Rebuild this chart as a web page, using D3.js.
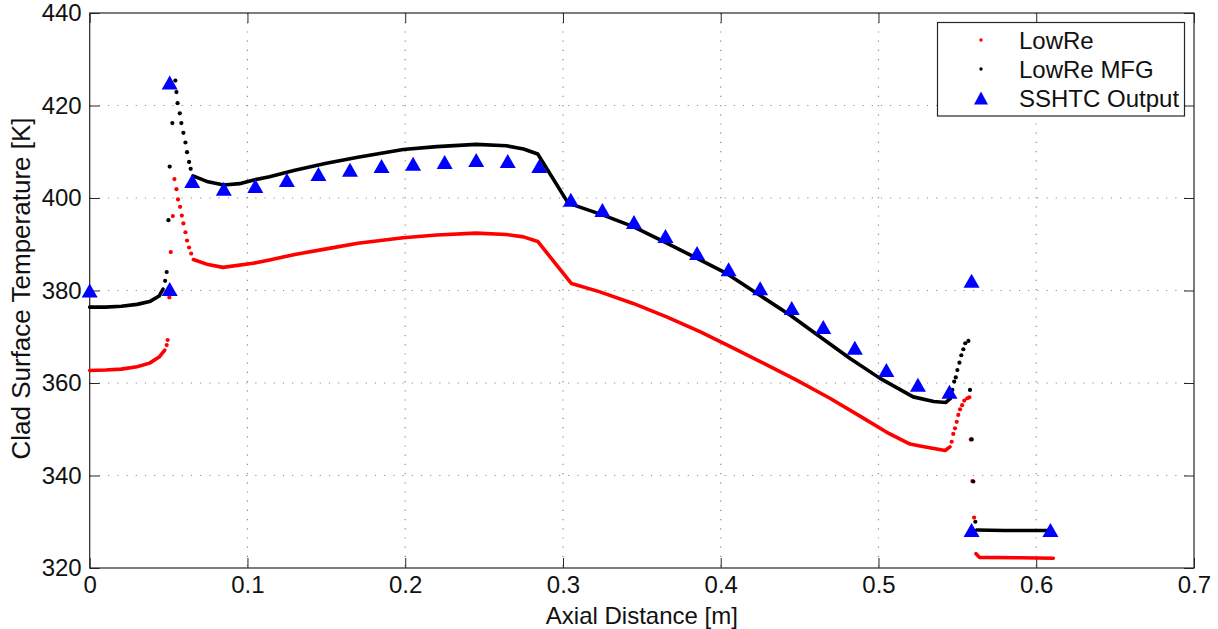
<!DOCTYPE html>
<html>
<head>
<meta charset="utf-8">
<script src="https://cdn.jsdelivr.net/npm/d3@7"></script>
<style>
  html, body { margin: 0; padding: 0; background: #fff; }
  svg { display: block; font-family: "Liberation Sans", Arial, Helvetica, sans-serif; }
</style>
</head>
<body>
<svg id="chart" width="1218" height="629"></svg>
<script>
// Axis ticks
const xTicks = [0, 0.1, 0.2, 0.3, 0.4, 0.5, 0.6, 0.7];
const yTicks = [320, 340, 360, 380, 400, 420, 440];

// LowRe (red): smooth runs drawn as lines, steep transitions as dots
const lowReStart = [[0, 362.7], [0.01, 362.8], [0.02, 363.0], [0.03, 363.5], [0.038, 364.3], [0.044, 365.6], [0.0476, 367.1]];
const lowReJump1 = [[0.0488, 368.2], [0.0494, 369.3], [0.0505, 378.5], [0.0514, 388.3], [0.0527, 396.1], [0.0537, 404.1],
  [0.055, 401.9], [0.056, 399.7], [0.0573, 398.1], [0.0584, 396.2], [0.0594, 394.5], [0.0607, 392.6], [0.0617, 390.8], [0.063, 389.3], [0.0643, 388.0]];
const lowReMid = [[0.0657, 386.7], [0.075, 385.6], [0.0845, 385.0], [0.1036, 385.9], [0.114, 386.6], [0.13, 387.8], [0.15, 389.0],
  [0.17, 390.2], [0.1987, 391.4], [0.22, 392.0], [0.245, 392.4], [0.264, 392.1], [0.275, 391.6], [0.284, 390.6], [0.3054, 381.5],
  [0.3234, 379.7], [0.3445, 377.2], [0.3657, 374.3], [0.3868, 371.1], [0.4058, 367.9], [0.427, 364.3], [0.4481, 360.6],
  [0.4692, 356.7], [0.4904, 352.4], [0.505, 349.4], [0.52, 346.8], [0.5263, 346.4], [0.5422, 345.4], [0.5453, 346.2]];
const lowReJump2 = [[0.5464, 347.3], [0.5474, 349.0], [0.5485, 350.2], [0.5496, 351.6], [0.5506, 353.1], [0.5517, 354.3],
  [0.553, 355.2], [0.5544, 356.2], [0.5563, 356.7], [0.5576, 356.9], [0.5585, 347.8], [0.5595, 338.8], [0.5606, 330.9]];
const lowReEnd = [[0.5618, 323.1], [0.564, 322.3], [0.59, 322.2], [0.6108, 322.1]];

// LowRe MFG (black)
const mfgStart = [[0, 376.4], [0.01, 376.4], [0.02, 376.6], [0.03, 377.0], [0.038, 377.6], [0.044, 378.8], [0.0465, 380.3]];
const mfgJump1 = [[0.0478, 382.1], [0.0488, 384.0], [0.0499, 395.2], [0.0507, 406.8], [0.0524, 416.2], [0.0543, 425.4],
  [0.055, 422.9], [0.0557, 420.5], [0.0571, 418.3], [0.0581, 416.2], [0.0594, 414.1], [0.0607, 412.0], [0.0617, 409.9], [0.063, 407.8], [0.064, 406.3]];
const mfgMid = [[0.0655, 404.8], [0.075, 403.5], [0.085, 402.8], [0.095, 403.1], [0.104, 403.9], [0.114, 404.6], [0.13, 406.0],
  [0.15, 407.5], [0.17, 408.8], [0.1987, 410.5], [0.22, 411.1], [0.245, 411.6], [0.264, 411.3], [0.275, 410.6], [0.284, 409.5],
  [0.3033, 398.9], [0.3255, 396.3], [0.3445, 393.8], [0.3636, 390.6], [0.3847, 387.0], [0.4037, 383.7], [0.4228, 379.4],
  [0.4439, 374.7], [0.4629, 370.0], [0.482, 365.3], [0.501, 361.0], [0.522, 357.0], [0.535, 356.0], [0.5427, 355.8], [0.5455, 356.6]];
const mfgJump2 = [[0.5468, 358.5], [0.548, 360.3], [0.549, 361.2], [0.55, 362.8], [0.5513, 364.4], [0.5525, 366.0], [0.5538, 367.3],
  [0.555, 368.6], [0.557, 369.1], [0.558, 358.5], [0.5591, 347.8], [0.5601, 338.7], [0.5614, 330.0]];
const mfgEnd = [[0.5622, 328.2], [0.58, 328.1], [0.6087, 328.1]];

// SSHTC Output (blue triangles)
const sshtcX = [0, 0.0507, 0.0507, 0.065, 0.085, 0.105, 0.125, 0.145, 0.165, 0.185, 0.205, 0.225, 0.245, 0.265, 0.285,
  0.305, 0.325, 0.345, 0.365, 0.385, 0.405, 0.425, 0.445, 0.465, 0.485, 0.505, 0.525, 0.545, 0.559, 0.559, 0.609];
const sshtcY = [380.0, 425.0, 380.3, 403.7, 402.0, 402.6, 403.9, 405.2, 406.1, 406.9, 407.4, 407.8, 408.2, 408.0, 406.9,
  399.6, 397.4, 394.8, 391.8, 388.1, 384.6, 380.5, 376.2, 372.1, 367.6, 362.8, 359.6, 358.1, 382.1, 328.2, 328.2];

const legendLabels = ["LowRe", "LowRe MFG", "SSHTC Output"];

const svg = d3.select("#chart");
const m = { left: 89.7, right: 1194, top: 13, bottom: 568 };
const W = m.right - m.left, H = m.bottom - m.top;

const x = d3.scaleLinear().domain([0, 0.7]).range([m.left, m.right]);
const y = d3.scaleLinear().domain([320, 440]).range([m.bottom, m.top]);

const gridColor = "#8c8c8c";
const axisColor = "#262626";
const fontSize = 24;

// Dotted grid
const grid = svg.append("g");
grid.selectAll("line.gx").data(xTicks.slice(1, -1)).join("line")
  .attr("x1", d => x(d)).attr("x2", d => x(d)).attr("y1", m.top).attr("y2", m.bottom)
  .attr("stroke", gridColor).attr("stroke-width", 1.2).attr("stroke-dasharray", "1.2,8");
grid.selectAll("line.gy").data(yTicks.slice(1, -1)).join("line")
  .attr("x1", m.left).attr("x2", m.right).attr("y1", d => y(d)).attr("y2", d => y(d))
  .attr("stroke", gridColor).attr("stroke-width", 1.2).attr("stroke-dasharray", "1.2,8");

// Axes with inward ticks on all four sides
const tickLen = 10;
const fmtX = d => d === 0 ? "0" : d3.format(".1f")(d);
function styleAxis(g) {
  g.select(".domain").remove();
  g.selectAll(".tick line").attr("stroke", axisColor).attr("stroke-width", 1);
  g.selectAll(".tick text").attr("fill", "#111").attr("font-size", fontSize).attr("font-family", "Liberation Sans, Arial, sans-serif");
}
svg.append("g").attr("transform", `translate(0,${m.bottom})`)
  .call(d3.axisBottom(x).tickValues(xTicks).tickFormat(fmtX).tickSizeInner(-tickLen).tickSizeOuter(0).tickPadding(8))
  .call(styleAxis);
svg.append("g").attr("transform", `translate(0,${m.top})`)
  .call(d3.axisTop(x).tickValues(xTicks).tickFormat("").tickSizeInner(-tickLen).tickSizeOuter(0))
  .call(styleAxis);
svg.append("g").attr("transform", `translate(${m.left},0)`)
  .call(d3.axisLeft(y).tickValues(yTicks).tickFormat(d3.format("d")).tickSizeInner(-tickLen).tickSizeOuter(0).tickPadding(8))
  .call(styleAxis);
svg.append("g").attr("transform", `translate(${m.right},0)`)
  .call(d3.axisRight(y).tickValues(yTicks).tickFormat("").tickSizeInner(-tickLen).tickSizeOuter(0))
  .call(styleAxis);

// Box
svg.append("rect").attr("x", m.left).attr("y", m.top).attr("width", W).attr("height", H)
  .attr("fill", "none").attr("stroke", axisColor).attr("stroke-width", 1.2);

// Axis titles
svg.append("text").attr("x", (m.left + m.right) / 2).attr("y", 624)
  .attr("text-anchor", "middle").attr("font-size", fontSize).attr("fill", "#111")
  .text("Axial Distance [m]");
svg.append("text").attr("transform", `translate(30,${(m.top + m.bottom) / 2 - 2}) rotate(-90)`)
  .attr("text-anchor", "middle").attr("font-size", 26).attr("fill", "#111")
  .text("Clad Surface Temperature [K]");

// Series
const line = d3.line().x(d => x(d[0])).y(d => y(d[1]));
const plot = svg.append("g");

function drawSeries(parts, color) {
  parts.forEach(p => {
    if (p.kind === "line") {
      plot.append("path").datum(p.data).attr("d", line)
        .attr("fill", "none").attr("stroke", color).attr("stroke-width", 3.6)
        .attr("stroke-linecap", "round").attr("stroke-linejoin", "round");
    } else {
      plot.append("g").selectAll("circle").data(p.data).join("circle")
        .attr("cx", d => x(d[0])).attr("cy", d => y(d[1])).attr("r", 2.1).attr("fill", color);
    }
  });
}
drawSeries([
  { kind: "line", data: lowReStart }, { kind: "dots", data: lowReJump1 }, { kind: "line", data: lowReMid },
  { kind: "dots", data: lowReJump2 }, { kind: "line", data: lowReEnd }
], "#ff0000");
drawSeries([
  { kind: "line", data: mfgStart }, { kind: "dots", data: mfgJump1 }, { kind: "line", data: mfgMid },
  { kind: "dots", data: mfgJump2 }, { kind: "line", data: mfgEnd }
], "#000000");

// Triangle marker centred on its point
const triW = 16, triH = 14;
const triPath = (cx, cy) => `M${cx},${cy - triH / 2}L${cx + triW / 2},${cy + triH / 2}L${cx - triW / 2},${cy + triH / 2}Z`;
plot.append("g").selectAll("path").data(d3.range(sshtcX.length)).join("path")
  .attr("d", i => triPath(x(sshtcX[i]), y(sshtcY[i])))
  .attr("fill", "#0000ff");

// Legend
const lg = svg.append("g");
lg.append("rect").attr("x", 937.5).attr("y", 22.5).attr("width", 247).attr("height", 93.5)
  .attr("fill", "#fff").attr("stroke", axisColor).attr("stroke-width", 1.2);
const rows = [40, 69, 98];
lg.append("circle").attr("cx", 981).attr("cy", rows[0]).attr("r", 1.7).attr("fill", "#ff0000");
lg.append("circle").attr("cx", 981).attr("cy", rows[1]).attr("r", 1.7).attr("fill", "#000");
lg.append("path").attr("d", `M981,${rows[2] - 6.5}L988,${rows[2] + 6.5}L974,${rows[2] + 6.5}Z`).attr("fill", "#0000ff");
lg.selectAll("text").data(legendLabels).join("text")
  .attr("x", 1019).attr("y", (d, i) => rows[i]).attr("dy", "0.36em")
  .attr("font-size", fontSize).attr("fill", "#111").text(d => d);
</script>
</body>
</html>
